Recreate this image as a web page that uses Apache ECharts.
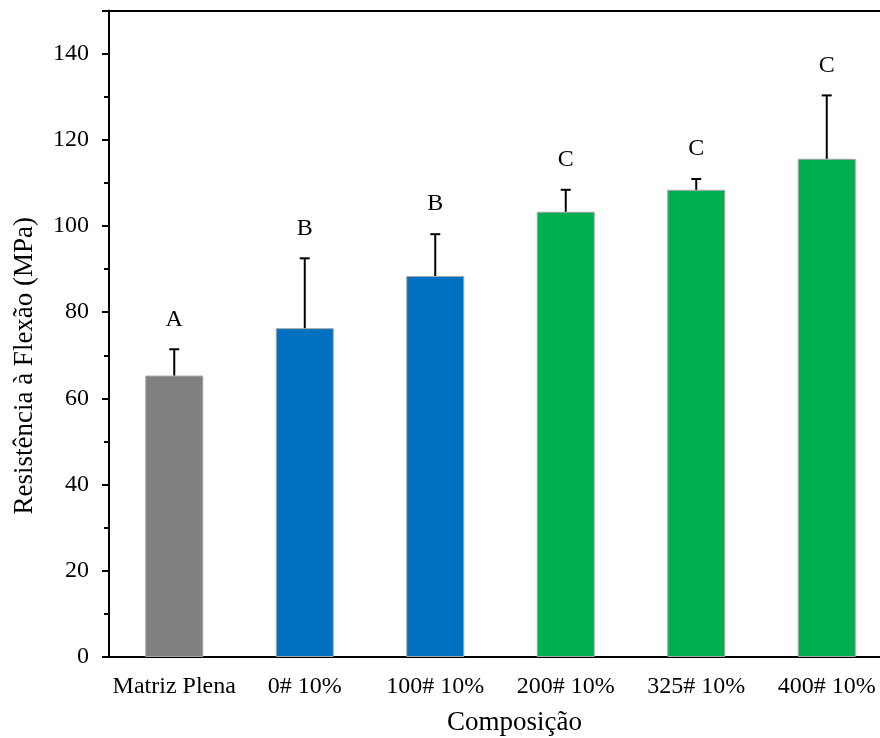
<!DOCTYPE html>
<html>
<head>
<meta charset="utf-8">
<script src="https://cdn.jsdelivr.net/npm/echarts@6/dist/echarts.min.js"></script>
<style>
  html, body { margin: 0; padding: 0; background: #fff; }
  #chart { width: 880px; height: 738px; }
</style>
</head>
<body>
<div id="chart"></div>
<script>
// dados
const categories = ['Matriz Plena', '0# 10%', '100# 10%', '200# 10%', '325# 10%', '400# 10%'];
const means = [65.3, 76.3, 88.4, 103.3, 108.4, 115.6];
const upper = [71.4, 92.5, 98.1, 108.4, 110.9, 130.3];
const letters = ['A', 'B', 'B', 'C', 'C', 'C'];
const barColors = ['#808080', '#0070C0', '#0070C0', '#00B050', '#00B050', '#00B050'];

const font = 'Liberation Serif';
const fs = 24;      // rótulos dos ticks e letras
const fsName = 27;  // nomes dos eixos

const chart = echarts.init(document.getElementById('chart'));

const option = {
  backgroundColor: '#fff',
  animation: false,
  grid: {
    left: 109,
    right: -12,
    top: 10.5,
    bottom: 81,
    containLabel: false,
    outerBoundsMode: 'none'
  },
  xAxis: [
    {
      type: 'category',
      data: categories,
      name: 'Composição',
      nameLocation: 'middle',
      nameGap: 52,
      nameTextStyle: { fontFamily: font, fontSize: fsName, color: '#000', padding: [0, 0, 0, 28] },
      axisLine: { lineStyle: { color: '#000', width: 2 } },
      axisTick: { alignWithLabel: true, length: 5, lineStyle: { color: '#000', width: 2 } },
      axisLabel: { fontFamily: font, fontSize: fs, color: '#000', margin: 18, interval: 0 }
    },
    {
      type: 'category',
      position: 'top',
      data: categories,
      axisLine: { lineStyle: { color: '#000', width: 2 } },
      axisTick: { show: false },
      axisLabel: { show: false }
    }
  ],
  yAxis: {
    type: 'value',
    min: 0,
    max: 150,
    interval: 20,
    name: 'Resistência à Flexão (MPa)',
    nameLocation: 'middle',
    nameGap: 71,
    nameTextStyle: { fontFamily: font, fontSize: fsName, color: '#000', padding: [0, 64, 0, 0] },
    axisLine: { show: true, lineStyle: { color: '#000', width: 2 } },
    axisTick: { show: true, length: 7, lineStyle: { color: '#000', width: 2 } },
    minorTick: { show: true, splitNumber: 2, length: 5, lineStyle: { color: '#000', width: 2 } },
    splitLine: { show: false },
    axisLabel: {
      fontFamily: font, fontSize: fs, color: '#000', margin: 20,
      formatter: v => (v % 20 === 0 ? String(v) : '')
    }
  },
  series: [
    {
      type: 'bar',
      barWidth: 58,
      data: means.map((v, i) => ({
        value: v,
        itemStyle: { color: barColors[i], borderColor: '#a6a6a6', borderWidth: 1 }
      }))
    },
    {
      // barras de erro + letras
      type: 'custom',
      data: means.map((v, i) => [i, v, upper[i], letters[i]]),
      encode: { x: 0, y: [1, 2] },
      z: 5,
      renderItem(params, api) {
        const base = api.coord([api.value(0), api.value(1)]);
        const top = api.coord([api.value(0), api.value(2)]);
        const cap = 5;
        return {
          type: 'group',
          children: [
            { type: 'line', shape: { x1: base[0], y1: base[1], x2: top[0], y2: top[1] },
              style: { stroke: '#000', lineWidth: 2 } },
            { type: 'line', shape: { x1: top[0] - cap, y1: top[1], x2: top[0] + cap, y2: top[1] },
              style: { stroke: '#000', lineWidth: 2 } },
            { type: 'text', x: top[0], y: top[1] - 30,
              style: { text: letters[params.dataIndex], x: 0, y: 0, align: 'center', verticalAlign: 'middle',
                       font: fs + 'px "' + font + '"', fill: '#000' } }
          ]
        };
      }
    }
  ]
};

chart.setOption(option);
</script>
</body>
</html>
